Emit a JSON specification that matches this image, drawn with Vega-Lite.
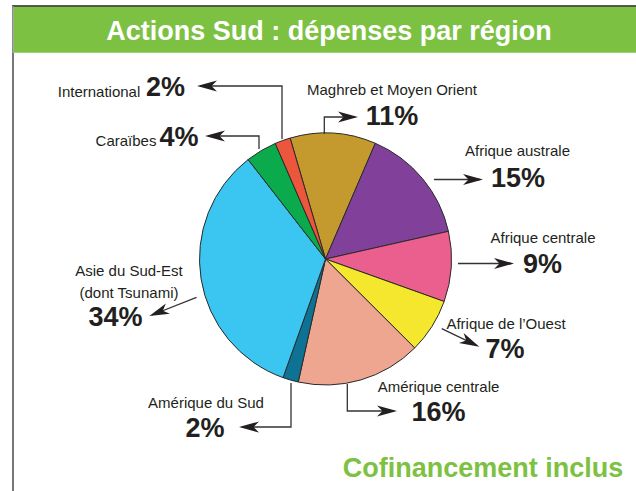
{
  "$schema": "https://vega.github.io/schema/vega-lite/v6.json",
  "width": 636,
  "height": 491,
  "autosize": "none",
  "padding": 0,
  "background": "white",
  "config": {"view": {"stroke": null}},
  "datasets": {
    "regions": [
      {"region": "Maghreb et Moyen Orient", "pct": 11},
      {"region": "Afrique australe", "pct": 15},
      {"region": "Afrique centrale", "pct": 9},
      {"region": "Afrique de l’Ouest", "pct": 7},
      {"region": "Amérique centrale", "pct": 16},
      {"region": "Amérique du Sud", "pct": 2},
      {"region": "Asie du Sud-Est", "pct": 34},
      {"region": "Caraïbes", "pct": 4},
      {"region": "International", "pct": 2}
    ],
    "labels": [
      {"region": "International", "lines": ["International"], "nx": 99, "ny": 96.5, "px": 165.5, "py": 95.5},
      {"region": "Caraïbes", "lines": ["Caraïbes"], "nx": 126, "ny": 146, "px": 179, "py": 145.5},
      {"region": "Maghreb et Moyen Orient", "lines": ["Maghreb et Moyen Orient"], "nx": 392, "ny": 95, "px": 392, "py": 124.5},
      {"region": "Afrique australe", "lines": ["Afrique australe"], "nx": 517.5, "ny": 156, "px": 518, "py": 187},
      {"region": "Afrique centrale", "lines": ["Afrique centrale"], "nx": 543, "ny": 243, "px": 542.5, "py": 272.5},
      {"region": "Afrique de l’Ouest", "lines": ["Afrique de l’Ouest"], "nx": 506, "ny": 329, "px": 505, "py": 358},
      {"region": "Amérique centrale", "lines": ["Amérique centrale"], "nx": 438.5, "ny": 391.5, "px": 438.5, "py": 421},
      {"region": "Amérique du Sud", "lines": ["Amérique du Sud"], "nx": 206, "ny": 408, "px": 205, "py": 436.5},
      {"region": "Asie du Sud-Est", "lines": ["Asie du Sud-Est", "(dont Tsunami)"], "nx": 129, "ny": 276, "px": 115.5, "py": 326}
    ],
    "arrows": [
      {"id": "intl", "seq": 1, "x": 282, "y": 139},
      {"id": "intl", "seq": 2, "x": 282, "y": 86},
      {"id": "intl", "seq": 3, "x": 200, "y": 86},
      {"id": "carib", "seq": 1, "x": 259, "y": 149},
      {"id": "carib", "seq": 2, "x": 259, "y": 136},
      {"id": "carib", "seq": 3, "x": 208, "y": 136},
      {"id": "magh", "seq": 1, "x": 324.3, "y": 134},
      {"id": "magh", "seq": 2, "x": 324.3, "y": 117},
      {"id": "magh", "seq": 3, "x": 355, "y": 117},
      {"id": "aust", "seq": 1, "x": 434, "y": 179.5},
      {"id": "aust", "seq": 2, "x": 480, "y": 179.5},
      {"id": "cent", "seq": 1, "x": 458, "y": 263.5},
      {"id": "cent", "seq": 2, "x": 511, "y": 263.5},
      {"id": "ouest", "seq": 1, "x": 441.7, "y": 328.7},
      {"id": "ouest", "seq": 2, "x": 476.5, "y": 345.4},
      {"id": "amc", "seq": 1, "x": 347.3, "y": 384},
      {"id": "amc", "seq": 2, "x": 347.3, "y": 411},
      {"id": "amc", "seq": 3, "x": 394, "y": 411},
      {"id": "ams", "seq": 1, "x": 291, "y": 383},
      {"id": "ams", "seq": 2, "x": 291, "y": 427},
      {"id": "ams", "seq": 3, "x": 242, "y": 427},
      {"id": "asie", "seq": 1, "x": 196.5, "y": 297.3},
      {"id": "asie", "seq": 2, "x": 152, "y": 315}
    ],
    "heads": [
      {"id": "intl", "x": 197, "y": 86, "angle": 180},
      {"id": "carib", "x": 205, "y": 136, "angle": 180},
      {"id": "magh", "x": 358, "y": 117, "angle": 0},
      {"id": "aust", "x": 483, "y": 179.5, "angle": 0},
      {"id": "cent", "x": 514, "y": 263.5, "angle": 0},
      {"id": "ouest", "x": 479.3, "y": 346.7, "angle": 25.6},
      {"id": "amc", "x": 397, "y": 411, "angle": 0},
      {"id": "ams", "x": 239, "y": 427, "angle": 180},
      {"id": "asie", "x": 149.3, "y": 316, "angle": 158.5}
    ]
  },
  "layer": [
    {
      "data": {"values": [{}]},
      "mark": {"type": "rect", "fill": "#7DC142"},
      "encoding": {
        "x": {"datum": 13.5, "type": "quantitative", "scale": {"domain": [0, 636], "nice": false, "zero": false}, "axis": null},
        "x2": {"datum": 636},
        "y": {"datum": 6.7, "type": "quantitative", "scale": {"domain": [0, 491], "reverse": true, "nice": false, "zero": false}, "axis": null},
        "y2": {"datum": 52.7}
      }
    },
    {
      "data": {"values": [{}]},
      "mark": {"type": "rule", "stroke": "#231F20", "strokeWidth": 1.5},
      "encoding": {
        "x": {"datum": 12, "type": "quantitative"},
        "x2": {"datum": 636},
        "y": {"datum": 6, "type": "quantitative"},
        "y2": {"datum": 6}
      }
    },
    {
      "data": {"values": [{}]},
      "mark": {"type": "rule", "stroke": "#8a8a8a", "strokeWidth": 1.6},
      "encoding": {
        "x": {"datum": 12.8, "type": "quantitative"},
        "x2": {"datum": 12.8},
        "y": {"datum": 6, "type": "quantitative"},
        "y2": {"datum": 52.7}
      }
    },
    {
      "data": {"values": [{}]},
      "mark": {"type": "rule", "stroke": "#555555", "strokeWidth": 1.6},
      "encoding": {
        "x": {"datum": 13, "type": "quantitative"},
        "x2": {"datum": 13},
        "y": {"datum": 52.7, "type": "quantitative"},
        "y2": {"datum": 491}
      }
    },
    {
      "data": {"name": "regions"},
      "transform": [{"window": [{"op": "row_number", "as": "k"}]}],
      "mark": {"type": "arc", "outerRadius": 126, "stroke": "#2a2a2a", "strokeWidth": 1},
      "encoding": {
        "x": {"datum": 325.5, "type": "quantitative"},
        "y": {"datum": 259, "type": "quantitative"},
        "theta": {"field": "pct", "type": "quantitative", "stack": true, "scale": {"range": [-0.2845, 5.9987]}},
        "order": {"field": "k", "type": "quantitative"},
        "color": {
          "field": "region",
          "type": "nominal",
          "legend": null,
          "scale": {
            "domain": ["Maghreb et Moyen Orient", "Afrique australe", "Afrique centrale", "Afrique de l’Ouest", "Amérique centrale", "Amérique du Sud", "Asie du Sud-Est", "Caraïbes", "International"],
            "range": ["#C49A2F", "#81419A", "#EB5F8E", "#F5E62E", "#EEA690", "#0E7295", "#3BC6F1", "#0BAB4D", "#EB563D"]
          }
        }
      }
    },
    {
      "data": {"name": "arrows"},
      "mark": {"type": "line", "stroke": "#333333", "strokeWidth": 1.3},
      "encoding": {
        "x": {"field": "x", "type": "quantitative"},
        "y": {"field": "y", "type": "quantitative"},
        "detail": {"field": "id"},
        "order": {"field": "seq", "type": "quantitative"}
      }
    },
    {
      "data": {"name": "heads"},
      "mark": {"type": "point", "shape": "M0,0 L-4,-1.1 L-2.9,0 L-4,1.1 Z", "filled": true, "fill": "#231F20", "opacity": 1, "size": 100, "strokeWidth": 0},
      "encoding": {
        "x": {"field": "x", "type": "quantitative"},
        "y": {"field": "y", "type": "quantitative"},
        "angle": {"field": "angle", "type": "quantitative", "scale": null}
      }
    },
    {
      "data": {"name": "labels"},
      "mark": {"type": "text", "align": "center", "baseline": "alphabetic", "font": "Liberation Sans", "fontSize": 15, "lineHeight": 21.5, "fill": "#231F20"},
      "encoding": {
        "x": {"field": "nx", "type": "quantitative"},
        "y": {"field": "ny", "type": "quantitative"},
        "text": {"field": "lines"}
      }
    },
    {
      "data": {"name": "labels"},
      "transform": [
        {"lookup": "region", "from": {"data": {"name": "regions"}, "key": "region", "fields": ["pct"]}},
        {"calculate": "datum.pct + '%'", "as": "pctText"}
      ],
      "mark": {"type": "text", "align": "center", "baseline": "alphabetic", "font": "Liberation Sans", "fontWeight": "bold", "fontSize": 27, "fill": "#231F20"},
      "encoding": {
        "x": {"field": "px", "type": "quantitative"},
        "y": {"field": "py", "type": "quantitative"},
        "text": {"field": "pctText"}
      }
    },
    {
      "data": {"values": [{"t": "Actions Sud : dépenses par région"}]},
      "mark": {"type": "text", "align": "center", "baseline": "alphabetic", "font": "Liberation Sans", "fontWeight": "bold", "fontSize": 27, "fill": "white"},
      "encoding": {
        "x": {"datum": 329, "type": "quantitative"},
        "y": {"datum": 40, "type": "quantitative"},
        "text": {"field": "t"}
      }
    },
    {
      "data": {"values": [{"t": "Cofinancement inclus"}]},
      "mark": {"type": "text", "align": "center", "baseline": "alphabetic", "font": "Liberation Sans", "fontWeight": "bold", "fontSize": 27, "fill": "#7DC142"},
      "encoding": {
        "x": {"datum": 483, "type": "quantitative"},
        "y": {"datum": 476.5, "type": "quantitative"},
        "text": {"field": "t"}
      }
    }
  ]
}
